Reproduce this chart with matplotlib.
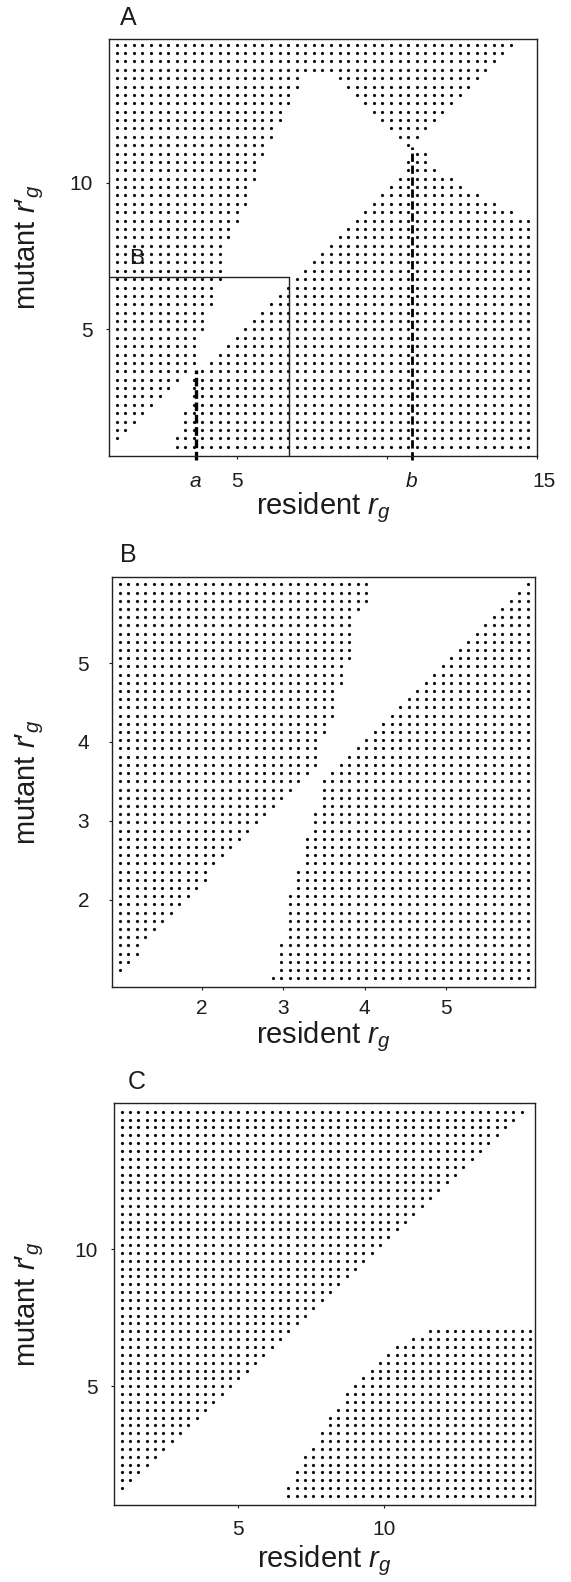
import numpy as np
import matplotlib.pyplot as plt
from matplotlib.transforms import ScaledTranslation

plt.rcParams['font.family'] = ['Liberation Sans', 'DejaVu Sans']
plt.rcParams['mathtext.fontset'] = 'custom'
plt.rcParams['mathtext.rm'] = 'Liberation Sans'
plt.rcParams['mathtext.it'] = 'Liberation Sans:italic'

INK = '#1c1c1c'

# lattice of resident (columns) and mutant (rows) values
grid_A = np.linspace(1, 15, 50)
grid_B = np.linspace(1, 6, 49)
grid_C = np.linspace(1, 15, 50)

# panel A, mutant can invade: per row (mutant index) the column runs
A_left_last = [-1, 0, 1, 2, 3, 4, 5, 6, 7, 8, 9, 9, 9, 9, 10, 10, 10, 11, 11, 11,
               12, 12, 12, 12, 12, 13, 13, 14, 14, 15, 15, 15, 16, 16, 16, 17, 17,
               18, 18, 19, 19, 20, 20, 21, 21, 43, 44, 45, 46]
A_wedge_rows = [36, 37, 38, 39, 40, 41, 42, 43, 44]
A_wedge_first = [34, 33, 32, 31, 30, 29, 28, 27, 26]
A_wedge_last = [34, 35, 36, 37, 38, 39, 40, 41, 42]
A_right_first = [7, 7, 8, 8, 8, 9, 9, 9, 9, 10, 11, 12, 13, 14, 15, 16, 17, 18, 19,
                 20, 21, 22, 23, 24, 25, 26, 27, 28, 29, 30, 31, 32, 33, 34, 34, 35]
A_right_last = [48, 48, 48, 48, 48, 48, 48, 48, 48, 48, 48, 48, 48, 48, 48, 48, 48,
                48, 48, 48, 48, 48, 48, 48, 48, 48, 48, 48, 46, 44, 42, 40, 39, 37,
                36, 36]
a_value = 3.64
b_value = 10.84
a_top = 3.62
b_top = 11.23
inset_corner = (6.75, 6.78)

# panel B (zoom of the lower-left corner of A)
B_left_last = [-1, 0, 1, 2, 2, 3, 4, 5, 6, 7, 8, 9, 10, 10, 11, 12, 13, 14, 15, 16,
               17, 18, 19, 20, 21, 22, 23, 23, 23, 23, 24, 24, 25, 25, 25, 25, 26,
               26, 26, 27, 27, 27, 27, 27, 27, 28, 29, 29, 29]
B_right_first = [18, 19, 19, 19, 19, 20, 20, 20, 20, 20, 20, 21, 21, 21, 22, 22, 22,
                 22, 23, 23, 23, 24, 24, 24, 24, 25, 26, 27, 28, 29, 30, 31, 32, 33,
                 34, 35, 36, 37, 38, 39, 40, 41, 42, 43, 44, 45, 46, 47, 48]

# panel C
C_left_last = [-1, 0, 1, 2, 3, 4, 5, 6, 7, 8, 9, 10, 11, 12, 13, 14, 15, 16, 17, 18,
               19, 20, 21, 22, 23, 24, 25, 26, 27, 28, 29, 30, 31, 32, 33, 34, 35,
               36, 37, 38, 39, 40, 41, 42, 43, 44, 45, 46, 47, 48]
C_right_first = [20, 20, 21, 21, 22, 22, 23, 24, 24, 25, 25, 26, 27, 27, 28, 29, 30,
                 31, 32, 33, 35, 37]


def runs_to_points(grid, runs):
    xs, ys = [], []
    for row, first, last in runs:
        for col in range(first, last + 1):
            xs.append(grid[col])
            ys.append(grid[row])
    return xs, ys


def style(ax):
    for s in ax.spines.values():
        s.set_linewidth(1.0)
        s.set_color('#222222')
    ax.tick_params(direction='out', length=2.5, width=0.8, colors=INK,
                   labelsize=15)


fig = plt.figure(figsize=(5.71, 15.82), dpi=100)
W, H = 571.0, 1582.0


def add_axes(left, top, right, bottom):
    return fig.add_axes([left / W, 1 - bottom / H, (right - left) / W, (bottom - top) / H])


dot_kw = dict(ls='none', marker='o', ms=2.3, mfc='#0d0d0d', mec='none')
LABEL_FS = 21
XLAB = "resident $r_g$"
YLAB = "mutant $r\\prime_g$"

# ---------- A ----------
axA = add_axes(109, 39, 537, 456)
runs = [(k, 0, last) for k, last in enumerate(A_left_last) if last >= 0]
runs += list(zip(A_wedge_rows, A_wedge_first, A_wedge_last))
runs += [(k, f, l) for k, (f, l) in enumerate(zip(A_right_first, A_right_last))]
xs, ys = runs_to_points(grid_A, runs)
axA.plot(xs, ys, **dot_kw)
axA.set_xlim(0.743, 15.01)
axA.set_ylim(0.683, 14.91)
axA.plot([0.743, inset_corner[0], inset_corner[0]],
         [inset_corner[1], inset_corner[1], 0.683], color='#222222', lw=1.0)
axA.text(1.67, 7.43, 'B', fontsize=16, color=INK, ha='center', va='center')
axA.plot([a_value, a_value], [0.55, a_top], color='black', lw=2.4,
         dashes=(2.6, 1.1), clip_on=False, solid_capstyle='butt')
axA.plot([b_value, b_value], [0.55, b_top], color='black', lw=2.0,
         dashes=(3.0, 1.3), clip_on=False, solid_capstyle='butt')
axA.set_xticks([a_value, 5, 10, b_value, 15])
axA.set_xticklabels(['$a$', '5', '', '$b$', '15'])
axA.set_yticks([5, 10])
style(axA)
axA.tick_params(axis='x', pad=9)
axA.tick_params(axis='y', pad=9)
last_lab = axA.get_xticklabels()[-1]
last_lab.set_transform(last_lab.get_transform() + ScaledTranslation(5 / 72, 0, fig.dpi_scale_trans))
axA.text(0.5, (456 - 514) / 417.0, XLAB, transform=axA.transAxes,
         ha='center', va='baseline', fontsize=LABEL_FS, color=INK)
axA.text((30 - 109) / 428.0, 0.5, YLAB, transform=axA.transAxes,
         ha='center', va='center', rotation=90, fontsize=LABEL_FS, color=INK)
fig.text(128 / W, 1 - 18 / H, 'A', fontsize=18, color=INK, ha='center', va='center')

# ---------- B ----------
axB = add_axes(112, 577, 535, 987)
runs = [(k, 0, last) for k, last in enumerate(B_left_last) if last >= 0]
runs += [(k, f, 48) for k, f in enumerate(B_right_first)]
xs, ys = runs_to_points(grid_B, runs)
axB.plot(xs, ys, **dot_kw)
axB.set_xlim(0.902, 6.086)
axB.set_ylim(0.890, 6.093)
axB.set_xticks([2, 3, 4, 5])
axB.set_yticks([2, 3, 4, 5])
style(axB)
axB.tick_params(axis='x', pad=6)
axB.tick_params(axis='y', pad=14)
axB.text(0.5, (987 - 1043) / 410.0, XLAB, transform=axB.transAxes,
         ha='center', va='baseline', fontsize=LABEL_FS, color=INK)
axB.text((30 - 112) / 423.0, 0.5, YLAB, transform=axB.transAxes,
         ha='center', va='center', rotation=90, fontsize=LABEL_FS, color=INK)
fig.text(128 / W, 1 - 555 / H, 'B', fontsize=18, color=INK, ha='center', va='center')

# ---------- C ----------
axC = add_axes(114, 1103, 535, 1505)
runs = [(k, 0, last) for k, last in enumerate(C_left_last) if last >= 0]
runs += [(k, f, 49) for k, f in enumerate(C_right_first)]
xs, ys = runs_to_points(grid_C, runs)
axC.plot(xs, ys, **dot_kw)
axC.set_xlim(0.736, 15.17)
axC.set_ylim(0.672, 15.32)
axC.set_xticks([5, 10])
axC.set_yticks([5, 10])
style(axC)
axC.tick_params(axis='x', pad=8)
axC.tick_params(axis='y', pad=9)
axC.text(0.5, (1505 - 1567) / 402.0, XLAB, transform=axC.transAxes,
         ha='center', va='baseline', fontsize=LABEL_FS, color=INK)
axC.text((30 - 114) / 421.0, 0.5, YLAB, transform=axC.transAxes,
         ha='center', va='center', rotation=90, fontsize=LABEL_FS, color=INK)
fig.text(137 / W, 1 - 1082 / H, 'C', fontsize=18, color=INK, ha='center', va='center')

fig.savefig('out.png', dpi=100, facecolor='white')
